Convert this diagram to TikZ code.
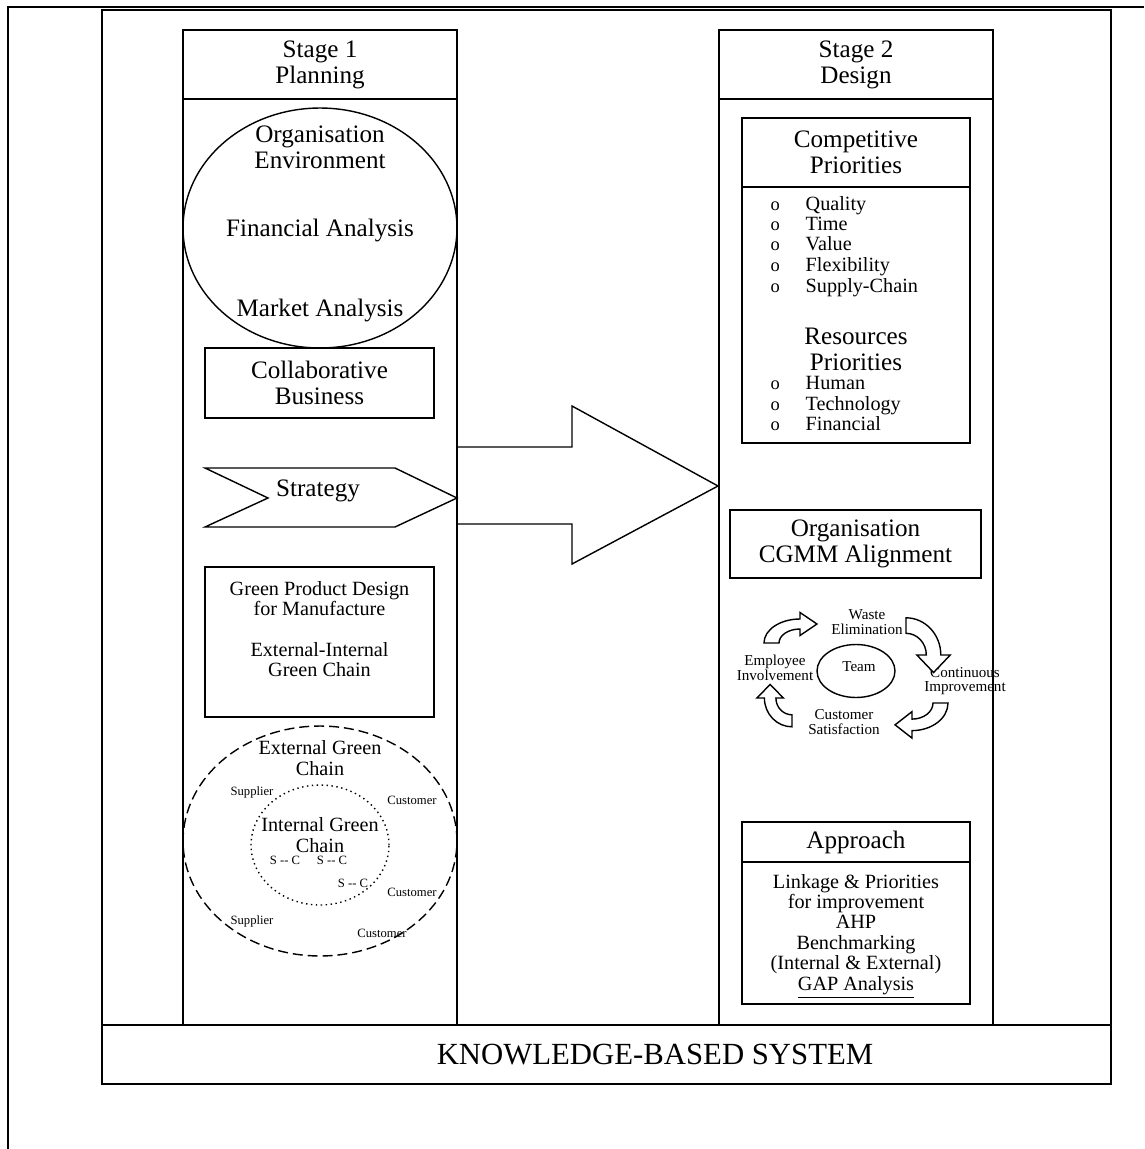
\documentclass[tikz,border=0pt]{standalone}
\usepackage{fontspec}
\setmainfont{Liberation Serif}
\usetikzlibrary{shapes.geometric}

\begin{document}
\begin{tikzpicture}[
		x=0.02cm, y=-0.02cm,
		line width=0.8pt,
		box/.style = {draw, rectangle, inner sep=0pt, align=center},
		bigtxt/.style = {font=\fontsize{14.3}{14.7}\selectfont, align=center},
		midtxt/.style = {font=\fontsize{11.5}{11.6}\selectfont, align=center},
		cyctxt/.style = {font=\fontsize{8.6}{8.3}\selectfont, align=center},
		tinytxt/.style = {font=\fontsize{7.2}{8}\selectfont, inner sep=1pt},
		item/.style = {midtxt, anchor=west, inner sep=0pt, text height=8pt, text depth=2.5pt},
		bendarrow/.pic = {
			\draw[fill=white] (-24,0) arc[start angle=180, end angle=270, radius=24]
				-- ++(0,-6.5) -- (11.3,-19) -- (0,-7.5) -- (0,-14)
				arc[start angle=270, end angle=180, radius=14] -- cycle;
		}
		]
		\useasboundingbox (0,0) rectangle (1144,1149);
		
		% Marcos
		\draw[line width=1pt] (8,1149) -- (8,7) -- (1144,7);
		\draw[line width=1pt] (102,10) rectangle (1111,1084);
		
		% Etapa 1
		\node[box, minimum width=5.48cm, minimum height=19.9cm] (stage1) at (320,527.5) {};
		\node[box, bigtxt, minimum width=5.48cm, minimum height=1.38cm] (head1) at (320,64.5) {Stage 1\\Planning};
		\node[draw, ellipse, inner sep=0pt, minimum width=5.48cm, minimum height=4.8cm] (envir) at (320,228) {};
		\node[bigtxt] (orgenv) at (320,147.5) {Organisation\\Environment};
		\node[bigtxt] (finan) at (320,230) {Financial Analysis};
		\node[bigtxt] (market) at (320,310) {Market Analysis};
		\node[box, bigtxt, minimum width=4.58cm, minimum height=1.4cm] (collab) at (319.5,383) {Collaborative\\Business};
		\draw (205,468) -- (395,468) -- (457,498) -- (395,527) -- (205,527) -- (268,498) -- cycle;
		\node[bigtxt] (strat) at (318,491) {Strategy};
		\node[box, minimum width=4.58cm, minimum height=3cm] (gpd) at (319.5,642) {};
		\node[midtxt] (gpdtxt) at (319.5,629) {Green Product Design\\for Manufacture\\[11.6pt]External-Internal\\Green Chain};
		
		% Cadenas
		\node[draw, ellipse, dash pattern=on 5.7pt off 2.8pt, inner sep=0pt, minimum width=5.48cm, minimum height=4.6cm] (extchain) at (320,841) {};
		\node[draw, ellipse, dotted, inner sep=0pt, minimum width=2.76cm, minimum height=2.4cm] (intchain) at (320,845) {};
		\node[midtxt] (extlbl) at (320,758) {External Green\\Chain};
		\node[midtxt] (intlbl) at (320,835) {Internal Green\\Chain};
		\node[tinytxt] (sup1) at (252,792) {Supplier};
		\node[tinytxt] (sup2) at (252,921) {Supplier};
		\node[tinytxt] (cus1) at (412,800) {Customer};
		\node[tinytxt] (cus2) at (412,892) {Customer};
		\node[tinytxt] (cus3) at (382,933) {Customer};
		\node[tinytxt] (sc1) at (285,860) {S -{}- C};
		\node[tinytxt] (sc2) at (332,860) {S -{}- C};
		\node[tinytxt] (sc3) at (353,883) {S -{}- C};
		
		% Flecha
		\draw (457,447) -- (572,447) -- (572,406) -- (718,486) -- (572,564) -- (572,524) -- (457,524);
		
		% Etapa 2
		\node[box, minimum width=5.48cm, minimum height=19.9cm] (stage2) at (856,527.5) {};
		\node[box, bigtxt, minimum width=5.48cm, minimum height=1.38cm] (head2) at (856,64.5) {Stage 2\\Design};
		\node[box, bigtxt, minimum width=4.56cm, minimum height=1.38cm] (comphead) at (856,152.5) {Competitive\\Priorities};
		\node[box, minimum width=4.56cm, minimum height=5.12cm] (complist) at (856,315) {};
		\foreach \yy/\lbl [count=\i] in {206/Quality, 226/Time, 246/Value, 267/Flexibility, 288/Supply-Chain, 385/Human, 406/Technology, 426/Financial} {
			\node[item, font=\fontsize{10.5}{10.5}\selectfont] (dot\i) at (770,\yy) {o};
			\node[item] (prio\i) at (805,\yy) {\lbl};
		}
		\node[bigtxt] (respri) at (856,349) {Resources\\Priorities};
		\node[box, bigtxt, minimum width=5.02cm, minimum height=1.36cm] (cgmm) at (855.5,544) {Organisation\\CGMM Alignment};
		
		% Ciclo
		\node[draw, ellipse, inner sep=0pt, minimum width=1.56cm, minimum height=1.06cm] (team) at (856,671) {};
		\node[cyctxt] (teamlbl) at (859,667) {Team};
		\node[cyctxt] (waste) at (867,622) {Waste\\Elimination};
		\node[cyctxt] (employ) at (775,668) {Employee\\Involvement};
		\node[cyctxt] (contin) at (965,681) {Continuous\\Improvement};
		\node[cyctxt] (custsat) at (844,722) {Customer\\Satisfaction};
		\pic[xscale=1.5] at (800,643) {bendarrow};
		\pic[rotate=-90, xscale=1.55, yscale=1.45] at (906,655) {bendarrow};
		\pic[rotate=180, xscale=1.5, yscale=1.15] at (912,703) {bendarrow};
		\pic[rotate=90, xscale=1.2, yscale=1.15] at (792,698) {bendarrow};
		
		% Enfoque
		\node[box, bigtxt, minimum width=4.56cm, minimum height=0.8cm] (apphead) at (856,842) {Approach};
		\node[box, minimum width=4.56cm, minimum height=2.84cm] (applist) at (856,933) {};
		\node[midtxt] (apptxt) at (856,936) {Linkage \& Priorities\\for improvement\\AHP\\Benchmarking\\(Internal \& External)\\\underline{GAP Analysis}};
		
		% Sistema
		\node[box, fill=white, minimum width=20.18cm, minimum height=1.18cm] (kbs) at (606.5,1054.5) {};
		\node[font=\fontsize{17.5}{17.5}\selectfont] (kbslbl) at (655,1055) {KNOWLEDGE-BASED SYSTEM};
	\end{tikzpicture}
\end{document}
